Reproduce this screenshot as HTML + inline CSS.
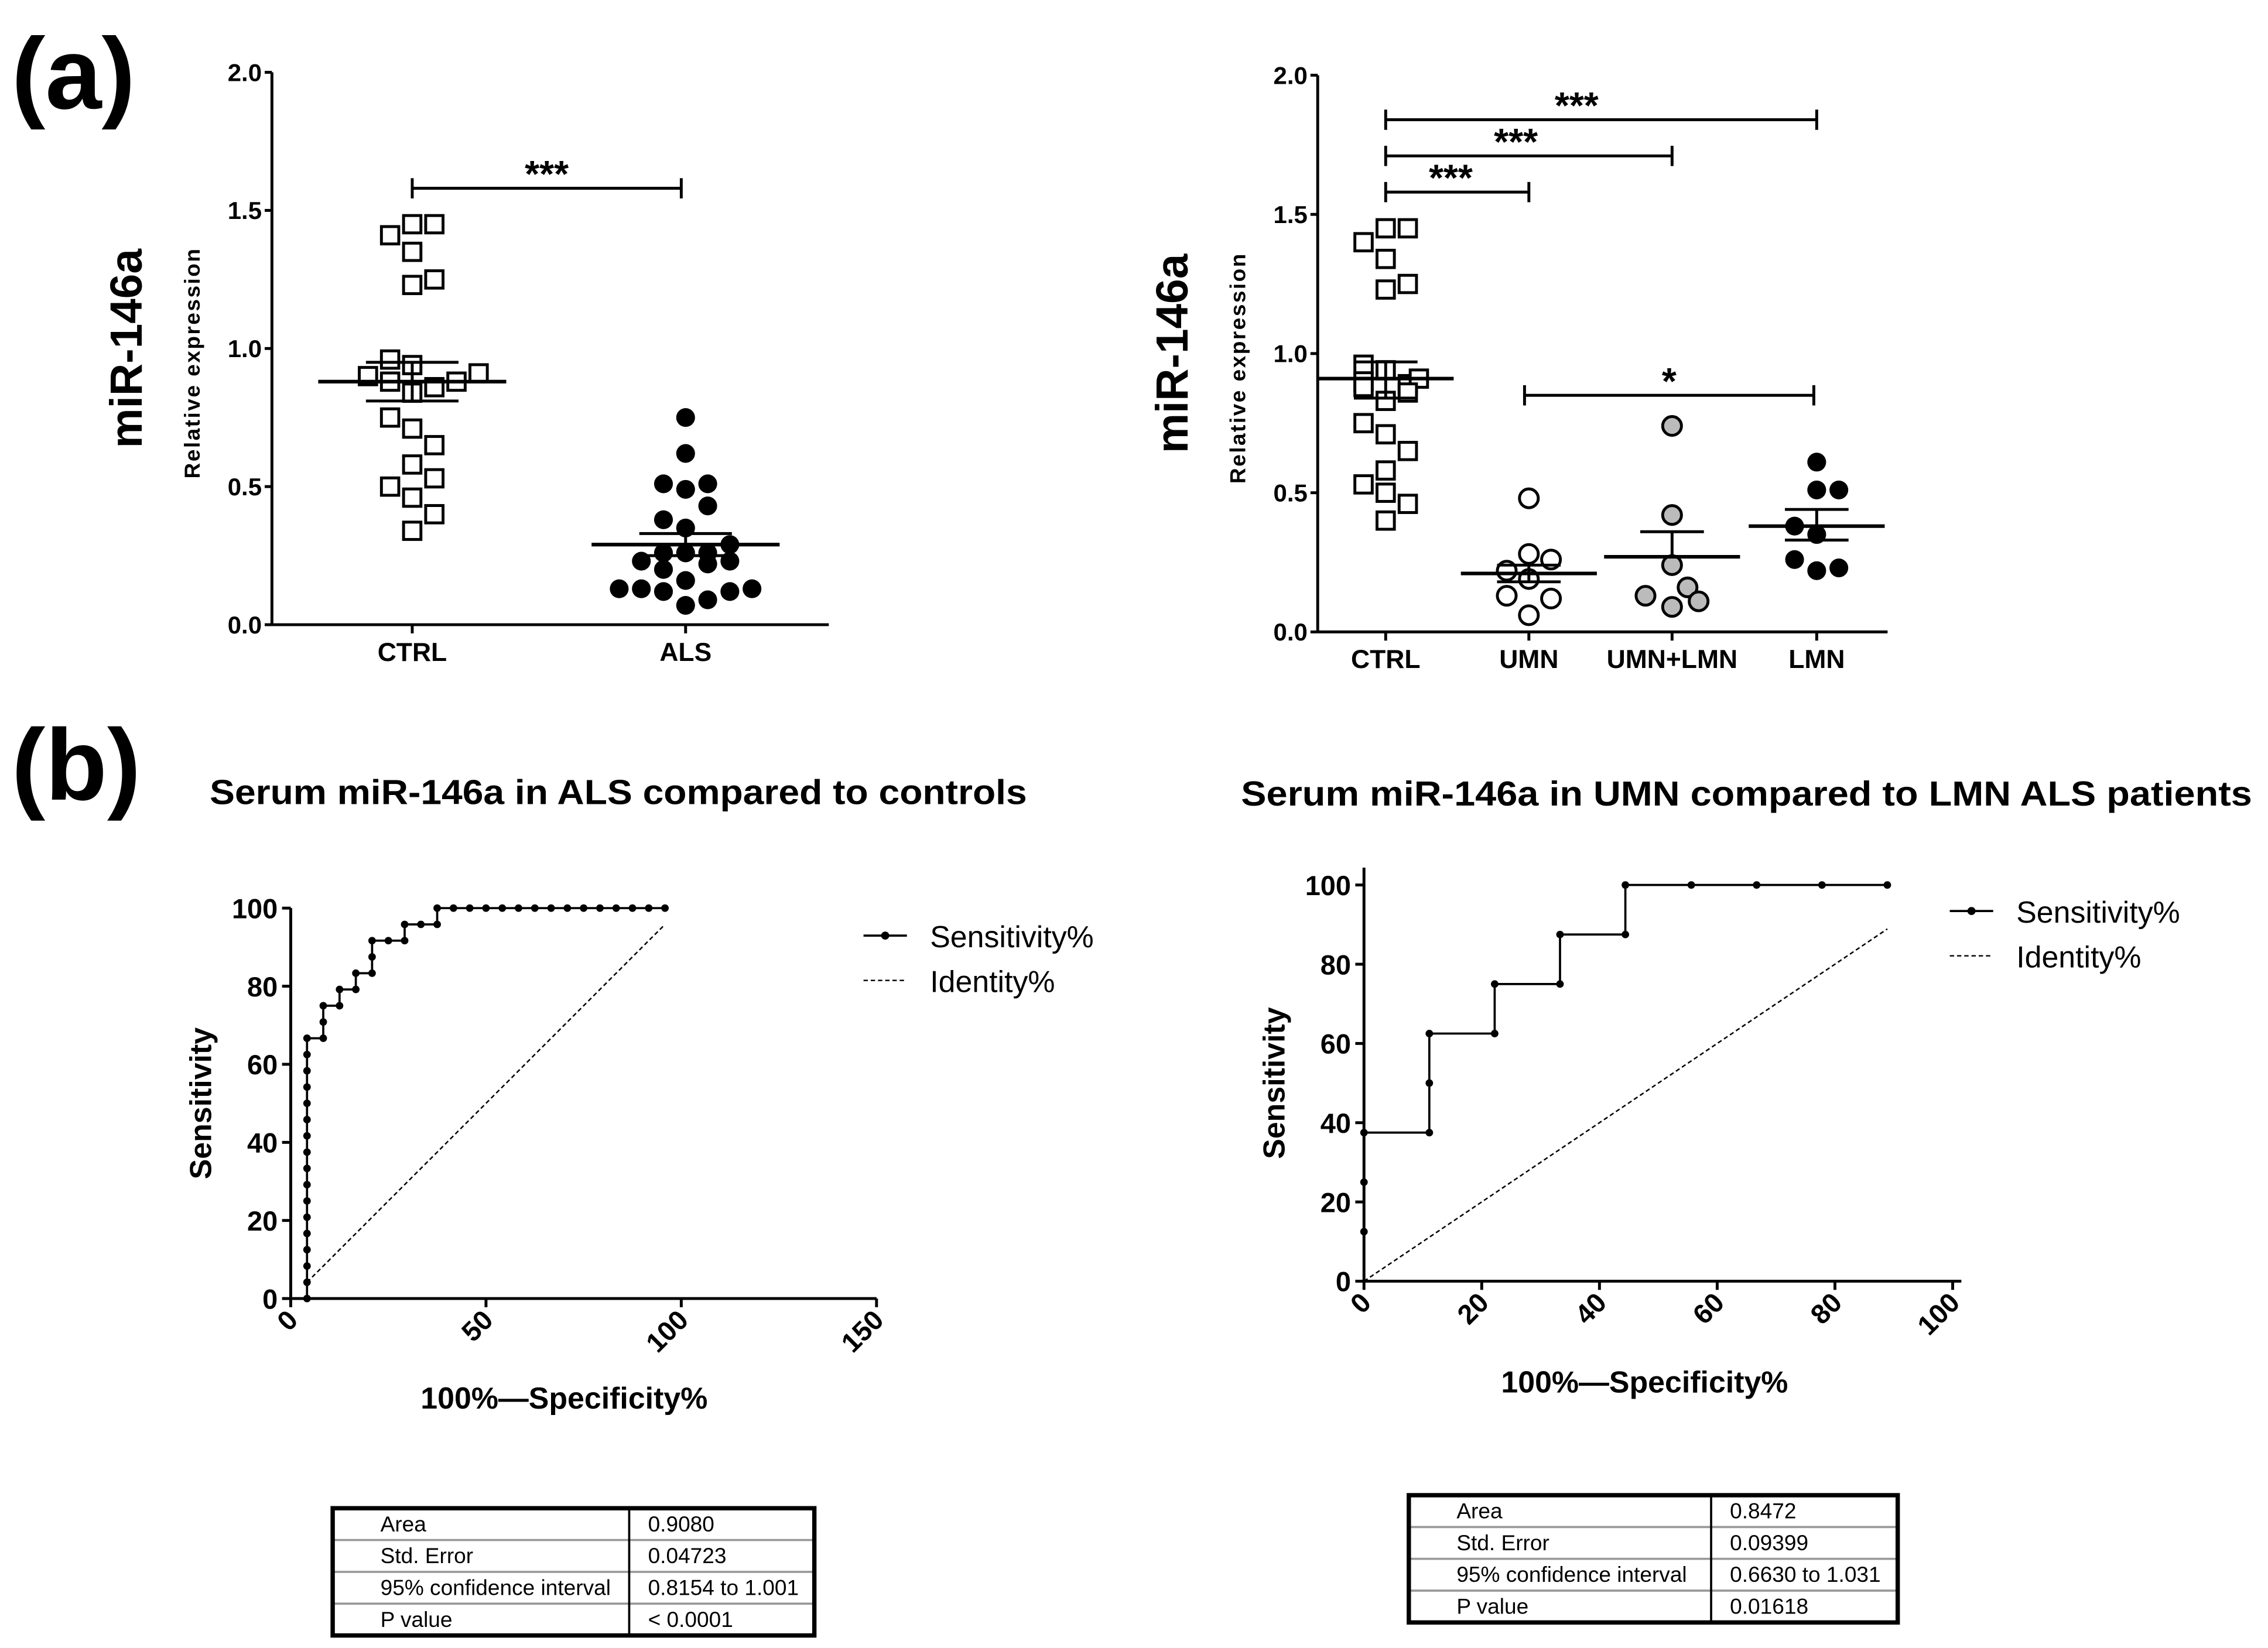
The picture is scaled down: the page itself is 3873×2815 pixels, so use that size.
<!DOCTYPE html>
<html><head><meta charset="utf-8"><style>
html,body{margin:0;padding:0;background:#fff}
svg{display:block}
text{font-family:"Liberation Sans",Arial,sans-serif}
</style></head><body>
<svg id="fig" width="3873" height="2815" viewBox="0 0 1568 1139.66" xmlns="http://www.w3.org/2000/svg">
<text x="8" y="75" font-size="70" font-weight="bold">(a)</text>
<text x="8" y="553" font-size="70" font-weight="bold">(b)</text>
<text x="145" y="556" font-size="24" font-weight="bold" textLength="565" lengthAdjust="spacingAndGlyphs">Serum miR-146a in ALS compared to controls</text>
<text x="858" y="557" font-size="24" font-weight="bold" textLength="699" lengthAdjust="spacingAndGlyphs">Serum miR-146a in UMN compared to LMN ALS patients</text>
<g id="g"></g>
</svg>
<script>
// ---- Data: panel a left ----
const ctrlVals=[1.45,1.45,1.41,1.35,1.25,1.23,0.96,0.94,0.90,0.88,0.88,0.91,0.86,0.84,0.75,0.71,0.65,0.58,0.53,0.50,0.46,0.40,0.34];
const ctrlCols=[0,1,-1,0,1,0,-1,0,-2,-1,2,3,1,0,-1,0,1,0,1,-1,0,1,0];
const alsVals=[0.75,0.62,0.51,0.49,0.51,0.43,0.38,0.35,0.29,0.26,0.26,0.26,0.23,0.22,0.23,0.20,0.16,0.13,0.13,0.12,0.12,0.13,0.09,0.07];
const alsCols=[0,0,-1,0,1,1,-1,0,2,-1,0,1,-2,1,2,-1,0,-3,-2,-1,2,3,1,0];
const leftMeans=[0.88,0.29];const leftSemHi=[0.95,0.33];const leftSemLo=[0.81,0.25];
const leftCats=["CTRL","ALS"];
// ---- Data: panel a right ----
const rCats=["CTRL","UMN","UMN+LMN","LMN"];
const rCtrlVals=[1.45,1.45,1.40,1.34,1.25,1.23,0.96,0.94,0.90,0.88,0.89,0.91,0.86,0.83,0.75,0.71,0.65,0.58,0.53,0.50,0.46,0.40];
const rCtrlCols=[0,1,-1,0,1,0,-1,0,-1,-1,1,1.5,1,0,-1,0,1,0,-1,0,1,0];
const umnVals=[0.48,0.28,0.26,0.22,0.19,0.13,0.12,0.06];
const umnCols=[0,0,1,-1,0,-1,1,0];
const mixVals=[0.74,0.42,0.24,0.16,0.13,0.11,0.09];
const mixCols=[0,0,0,0.7,-1.2,1.2,0];
const lmnVals=[0.61,0.51,0.51,0.38,0.35,0.26,0.22,0.23];
const lmnCols=[0,0,1,-1,0,-1,0,1];
const rMeans=[0.91,0.21,0.27,0.38];const rSemHi=[0.97,0.24,0.36,0.44];const rSemLo=[0.84,0.18,0.27,0.33];
// ---- Data: ROC left ----
const rocLX=[4.17,4.17,4.17,4.17,4.17,4.17,4.17,4.17,4.17,4.17,4.17,4.17,4.17,4.17,4.17,4.17,4.17,8.33,8.33,8.33,12.5,12.5,16.67,16.67,20.83,20.83,20.83,25,29.17,29.17,33.33,37.5,37.5,41.67,45.83,50,54.17,58.33,62.5,66.67,70.83,75,79.17,83.33,87.5,91.67,95.83];
const rocLY=[0,4.17,8.33,12.5,16.67,20.83,25,29.17,33.33,37.5,41.67,45.83,50,54.17,58.33,62.5,66.67,66.67,70.83,75,75,79.17,79.17,83.33,83.33,87.5,91.67,91.67,91.67,95.83,95.83,95.83,100,100,100,100,100,100,100,100,100,100,100,100,100,100,100];
const rocLTicksX=[0,50,100,150];const rocLTicksY=[0,20,40,60,80,100];
const idL=[4.17,95.83];
// ---- Data: ROC right ----
const rocRX=[0,0,0,11.1,11.1,11.1,22.2,22.2,33.3,33.3,44.4,44.4,55.6,66.7,77.8,88.9];
const rocRY=[12.5,25,37.5,37.5,50,62.5,62.5,75,75,87.5,87.5,100,100,100,100,100];
const rocRTicksX=[0,20,40,60,80,100];const rocRTicksY=[0,20,40,60,80,100];
const idR=[0,88.9];
const tblLLabels=["Area","Std. Error","95% confidence interval"," P value"];
const tblLValues=["0.9080","0.04723","0.8154 to 1.001","< 0.0001"];
const tblRLabels=["Area","Std. Error","95% confidence interval"," P value"];
const tblRValues=["0.8472","0.09399","0.6630 to 1.031","0.01618"];

const NS="http://www.w3.org/2000/svg";const G=document.getElementById('g');
function el(tag,attrs,parent,txt){const e=document.createElementNS(NS,tag);for(const k in attrs)e.setAttribute(k,attrs[k]);if(txt!==undefined)e.textContent=txt;(parent||G).appendChild(e);return e;}
function grp(name){const g=el('g',{});return g;}

function dotPlot(o){
  const g=grp(o.name);
  const y=v=>o.y0-(v/2)*(o.y0-o.y2);
  el('line',{x1:o.ax,y1:o.y2,x2:o.ax,y2:o.y0,stroke:'#000','stroke-width':2},g);
  el('line',{x1:o.ax,y1:o.y0,x2:o.xend,y2:o.y0,stroke:'#000','stroke-width':2},g);
  [0,0.5,1,1.5,2].forEach(t=>{el('line',{x1:o.ax-5,y1:y(t),x2:o.ax,y2:y(t),stroke:'#000','stroke-width':2},g);
    const tx=el('text',{x:o.ax-7,y:y(t)+6,'font-size':17,'font-weight':'bold','text-anchor':'end'},g,t.toFixed(1));});
  o.cats.forEach((c,i)=>{el('line',{x1:o.cx[i],y1:o.y0,x2:o.cx[i],y2:o.y0+6,stroke:'#000','stroke-width':2},g);
    const tx=el('text',{x:o.cx[i],y:o.y0+25,'font-size':18,'font-weight':'bold','text-anchor':'middle'},g,c);});
  const yl=el('text',{transform:`translate(${o.ax-50},${(o.y0+o.y2)/2+10}) rotate(-90)`,'font-size':15,'font-weight':'bold','text-anchor':'middle','letter-spacing':'1'},g,'Relative expression');
  
  const ml=el('text',{transform:`translate(${o.ax-90},${(o.y0+o.y2)/2}) rotate(-90)`,'font-size':31,'font-weight':'bold','text-anchor':'middle'},g,'miR-146a');
  
  o.series.forEach((s,si)=>{
    s.vals.forEach((v,i)=>{const x=o.cx[s.cat]+s.cols[i]*15.3,yy=y(v);let m;
      if(s.shape==='sq'){m=el('rect',{x:x-6,y:yy-6,width:12,height:12,fill:'#fff',stroke:'#000','stroke-width':2},g);}
      else{m=el('circle',{cx:x,cy:yy,r:6.5,fill:s.fill,stroke:'#000','stroke-width':s.fill==='#000'?0:2},g);}
      });
  });
  o.means.forEach((m,i)=>{const x=o.cx[i];
    const l=el('line',{x1:x-o.mw,y1:y(m),x2:x+o.mw,y2:y(m),stroke:'#000','stroke-width':2.5},g);
    el('line',{x1:x,y1:y(o.lo[i]),x2:x,y2:y(o.hi[i]),stroke:'#000','stroke-width':2},g);
    el('line',{x1:x-o.cw,y1:y(o.hi[i]),x2:x+o.cw,y2:y(o.hi[i]),stroke:'#000','stroke-width':2},g);
    el('line',{x1:x-o.cw,y1:y(o.lo[i]),x2:x+o.cw,y2:y(o.lo[i]),stroke:'#000','stroke-width':2},g);});
  o.brackets.forEach(b=>{const yy=y(b.v),x1=o.cx[b.a]-(b.oa||0),x2=o.cx[b.b]-(b.ob||0);
    const bg=grp('significance-bracket');g.appendChild(bg);
    el('line',{x1:x1,y1:yy,x2:x2,y2:yy,stroke:'#000','stroke-width':2},bg);
    el('line',{x1:x1,y1:yy-7,x2:x1,y2:yy+7,stroke:'#000','stroke-width':2},bg);
    el('line',{x1:x2,y1:yy-7,x2:x2,y2:yy+7,stroke:'#000','stroke-width':2},bg);
    el('text',{x:b.tx!==undefined?b.tx:(x1+x2)/2,y:yy-1,'font-size':26,'font-weight':'bold','text-anchor':'middle'},bg,b.s);});
}
dotPlot({name:'dotplot-ctrl-vs-als',ax:188,y0:432,y2:50,xend:573,cx:[285,474],cats:leftCats,mw:65,cw:32,
 series:[{cat:0,vals:ctrlVals,cols:ctrlCols,shape:'sq'},{cat:1,vals:alsVals,cols:alsCols,shape:'c',fill:'#000'}],
 means:leftMeans,hi:leftSemHi,lo:leftSemLo,brackets:[{a:0,b:1,v:1.58,s:'***',ob:3}]});
dotPlot({name:'dotplot-subgroups',ax:911,y0:437,y2:52,xend:1305,cx:[958,1057,1156,1256],cats:rCats,mw:47,cw:22,
 series:[{cat:0,vals:rCtrlVals,cols:rCtrlCols,shape:'sq'},{cat:1,vals:umnVals,cols:umnCols,shape:'c',fill:'#fff'},{cat:2,vals:mixVals,cols:mixCols,shape:'c',fill:'#bbb'},{cat:3,vals:lmnVals,cols:lmnCols,shape:'c',fill:'#000'}],
 means:rMeans,hi:rSemHi,lo:rSemLo,
 brackets:[{a:0,b:3,v:1.84,s:'***',tx:1090},{a:0,b:2,v:1.71,s:'***',tx:1048},{a:0,b:1,v:1.58,s:'***',tx:1003},{a:1,b:3,v:0.85,s:'*',oa:3,ob:2}]});

function roc(o){
  const g=grp(o.name);
  const X=v=>o.x0+v*o.kx, Y=v=>o.y0-v*o.ky;
  el('line',{x1:o.x0,y1:o.ytop,x2:o.x0,y2:o.y0,stroke:'#000','stroke-width':2},g);
  el('line',{x1:o.x0,y1:o.y0,x2:o.xend,y2:o.y0,stroke:'#000','stroke-width':2},g);
  o.ty.forEach(t=>{el('line',{x1:o.x0-6,y1:Y(t),x2:o.x0,y2:Y(t),stroke:'#000','stroke-width':2},g);
    const tx=el('text',{x:o.x0-9,y:Y(t)+7,'font-size':19,'font-weight':'bold','text-anchor':'end'},g,t);});
  o.tx.forEach(t=>{el('line',{x1:X(t),y1:o.y0,x2:X(t),y2:o.y0+6,stroke:'#000','stroke-width':2},g);
    const tx=el('text',{transform:`translate(${X(t)+6},${o.y0+16}) rotate(-45)`,'font-size':19,'font-weight':'bold','text-anchor':'end'},g,t);});
  const yt=el('text',{transform:`translate(${o.x0-55},${Y(50)}) rotate(-90)`,'font-size':21,'font-weight':'bold','text-anchor':'middle'},g,'Sensitivity');
  const xt=el('text',{x:o.xtx,y:o.xty,'font-size':21,'font-weight':'bold','text-anchor':'middle'},g,'100%\u2014Specificity%');
  const idl=el('line',{x1:X(o.id[0]),y1:Y(o.id[0]),x2:X(o.id[1]),y2:Y(o.id[1]),stroke:'#000','stroke-width':1,'stroke-dasharray':'3,2'},g);
  const pts=o.xs.map((v,i)=>X(v)+','+Y(o.ys[i])).join(' ');
  const pl=el('polyline',{points:pts,fill:'none',stroke:'#000','stroke-width':1.5},g);
  o.xs.forEach((v,i)=>{const c=el('circle',{cx:X(v),cy:Y(o.ys[i]),r:2.6,fill:'#000'},g);});
  const lg=grp('legend');g.appendChild(lg);
  el('line',{x1:o.lx,y1:o.ly,x2:o.lx+30,y2:o.ly,stroke:'#000','stroke-width':1.5},lg);
  el('circle',{cx:o.lx+15,cy:o.ly,r:2.8,fill:'#000'},lg);
  el('text',{x:o.lx+46,y:o.ly+8,'font-size':21},lg,'Sensitivity%');
  el('line',{x1:o.lx,y1:o.ly+31,x2:o.lx+30,y2:o.ly+31,stroke:'#000','stroke-width':1,'stroke-dasharray':'3,2'},lg);
  el('text',{x:o.lx+46,y:o.ly+39,'font-size':21},lg,'Identity%');
}
roc({name:'roc-als-vs-ctrl',x0:201,y0:898,kx:2.7,ky:2.7,ytop:628,xend:606,tx:rocLTicksX,ty:rocLTicksY,xs:rocLX,ys:rocLY,id:idL,xtx:390,xty:974,lx:597,ly:647});
roc({name:'roc-umn-vs-lmn',x0:943,y0:886,kx:4.07,ky:2.74,ytop:600,xend:1356,tx:rocRTicksX,ty:rocRTicksY,xs:rocRX,ys:rocRY,id:idR,xtx:1137,xty:963,lx:1348,ly:630});

function table(o){
  const g=grp(o.name);const rh=(o.h)/4;
  for(let i=1;i<4;i++)el('line',{x1:o.x,y1:o.y+i*rh,x2:o.x+o.w,y2:o.y+i*rh,stroke:'#999','stroke-width':1.5},g);
  el('line',{x1:o.cx,y1:o.y,x2:o.cx,y2:o.y+o.h,stroke:'#000','stroke-width':1.5},g);
  el('rect',{x:o.x,y:o.y,width:o.w,height:o.h,fill:'none',stroke:'#000','stroke-width':3},g);
  o.labels.forEach((l,i)=>{el('text',{x:o.x+33,y:o.y+i*rh+16,'font-size':15,'xml:space':'preserve'},g,l);
    el('text',{x:o.cx+13,y:o.y+i*rh+16,'font-size':15},g,o.vals[i]);});
}
table({name:'stats-table-left',x:230,y:1043,w:333,h:88,cx:435,labels:tblLLabels,vals:tblLValues});
table({name:'stats-table-right',x:974,y:1034,w:338,h:88,cx:1183,labels:tblRLabels,vals:tblRValues});
</script>
</body></html>
